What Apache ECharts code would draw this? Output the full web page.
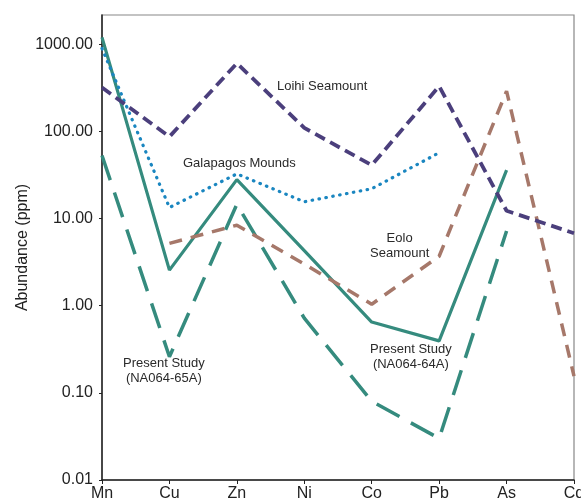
<!DOCTYPE html>
<html>
<head>
<meta charset="utf-8">
<script src="https://cdn.jsdelivr.net/npm/echarts@6/dist/echarts.min.js"></script>
<style>
  html, body { margin: 0; padding: 0; background: #fff; }
  #chart { width: 581px; height: 502px; }
</style>
</head>
<body>
<div id="chart"></div>
<script>
// Trace-element abundances (ppm), log scale
const elements = ['Mn', 'Cu', 'Zn', 'Ni', 'Co', 'Pb', 'As', 'Cd'];
const yTicks = [0.01, 0.1, 1, 10, 100, 1000];

const loihi       = [320, 87, 605, 110, 41, 330, 12.3, 6.8];
const galapagos   = [895, 13.4, 32.6, 15.6, 22, 57, null, null];
const eolo        = [null, 5.2, 8.4, 3.0, 1.04, 3.7, 290, 0.156];
const study64A    = [1200, 2.56, 28, 4.3, 0.65, 0.395, 36, null];
const study65A    = [53, 0.26, 14.6, 0.72, 0.08, 0.030, 7.2, null];

const TEAL = '#358b7e';
const PURPLE = '#4b3f7c';
const BLUE = '#1a86c0';
const BROWN = '#a6786a';
const FONT = '"Liberation Sans", Arial, sans-serif';

const chart = echarts.init(document.getElementById('chart'));

function line(name, data, color, type, width, z) {
  return {
    name: name,
    type: 'line',
    data: data,
    symbol: 'none',
    connectNulls: false,
    z: z,
    lineStyle: { color: color, width: width, type: type, cap: 'butt' }
  };
}

const dotted = line('Galapagos Mounds', galapagos, BLUE, [0.5, 6.5], 3.2, 4);
dotted.lineStyle.cap = 'round';

// Curve annotations; left/top give the top-left corner of each text block
const annot = (text, x, y) => ({
  type: 'text',
  left: x, top: y,
  style: { text: text, fill: '#2a2a2a', font: '13px ' + FONT, textAlign: 'center', lineHeight: 15 }
});

chart.setOption({
  animation: false,
  backgroundColor: '#fff',
  grid: {
    left: 102, right: 7, top: 15, bottom: 22,
    outerBoundsMode: 'none',
    containLabel: false,
    show: true, borderColor: '#888', borderWidth: 1.2
  },
  xAxis: {
    type: 'category',
    data: elements,
    boundaryGap: false,
    axisLine: { lineStyle: { color: '#222', width: 1.5 } },
    axisTick: { show: true, length: 4, alignWithLabel: true, lineStyle: { color: '#222' } },
    axisLabel: { color: '#222', fontSize: 16, fontFamily: FONT, margin: 6, interval: 0 },
    splitLine: { show: false }
  },
  yAxis: {
    type: 'log',
    logBase: 10,
    min: 0.01,
    max: 2170,
    name: 'Abundance (ppm)',
    nameLocation: 'middle',
    nameGap: 71,
    nameMoveOverlap: false,
    nameRotate: 90,
    nameTextStyle: { color: '#222', fontSize: 16, fontFamily: FONT },
    axisLine: { show: true, lineStyle: { color: '#222', width: 1.5 } },
    axisTick: { show: true, length: 3, customValues: yTicks, lineStyle: { color: '#222' } },
    axisLabel: {
      color: '#222', fontSize: 16, fontFamily: FONT, margin: 9,
      customValues: yTicks,
      formatter: v => (yTicks.some(t => Math.abs(t - v) / t < 1e-6) ? v.toFixed(2) : '')
    },
    splitLine: { show: false }
  },
  series: [
    line('Present Study (NA064-64A)', study64A, TEAL, 'solid', 3.2, 2),
    line('Present Study (NA064-65A)', study65A, TEAL, [26, 13], 3.5, 3),
    dotted,
    line('Eolo Seamount', eolo, BROWN, [13, 9], 3.5, 5),
    line('Loihi Seamount', loihi, PURPLE, [11, 6], 3.8, 6)
  ],
  graphic: [
    annot('Loihi Seamount', 277, 79),
    annot('Galapagos Mounds', 183, 156),
    annot('Eolo\nSeamount', 370, 231),
    annot('Present Study\n(NA064-64A)', 370, 342),
    annot('Present Study\n(NA064-65A)', 123, 356)
  ]
});
</script>
</body>
</html>
